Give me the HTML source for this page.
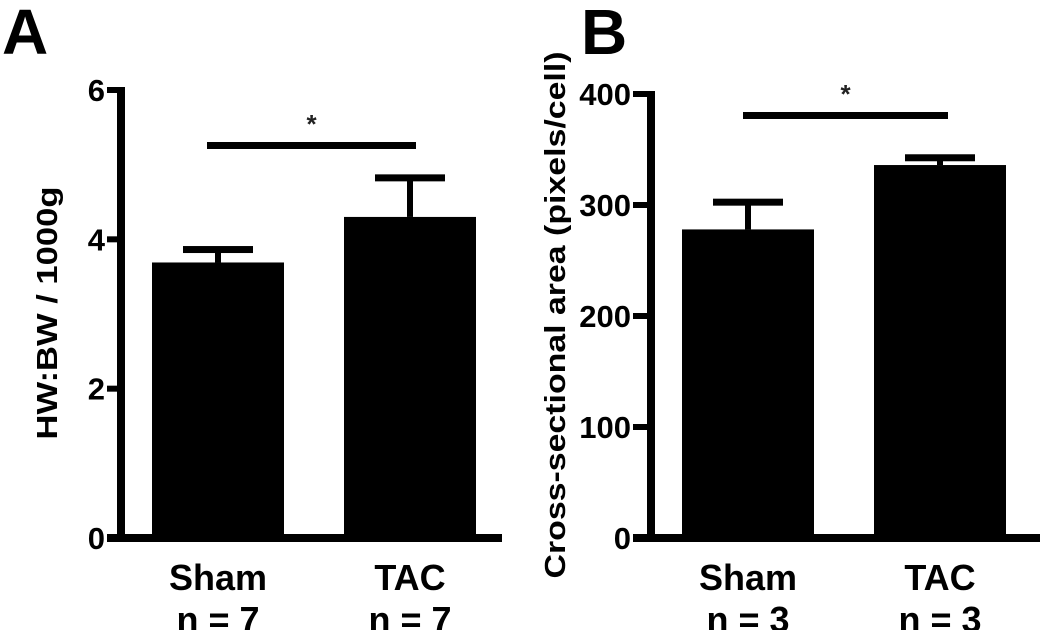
<!DOCTYPE html>
<html><head><meta charset="utf-8"><style>
html,body{margin:0;padding:0;background:#fff;}
svg{display:block;font-family:"Liberation Sans",Arial,sans-serif;font-weight:bold;}
</style></head><body>
<svg id="chart" width="1050" height="630" viewBox="0 0 1050 630"></svg>
<script>
const categories = ["Sham", "TAC"];
const nLabelsA = ["n = 7", "n = 7"];
const nLabelsB = ["n = 3", "n = 3"];
const valuesA = [3.69, 4.30];
const errorsA = [0.18, 0.53];
const valuesB = [278, 336];
const errorsB = [25, 7];
const ticksA = [0, 2, 4, 6];
const ticksB = [0, 100, 200, 300, 400];

const NS = "http://www.w3.org/2000/svg";
const svg = document.getElementById("chart");
function mk(tag, attrs, parent) {
  const e = document.createElementNS(NS, tag);
  for (const k in attrs) e.setAttribute(k, attrs[k]);
  (parent || svg).appendChild(e);
  return e;
}

function panel(cfg) {
  const g = mk("g", {});
  
  
  const y = v => cfg.y0 - (v / cfg.max) * (cfg.y0 - cfg.yTop);
  const L = mk("text", {x: cfg.letterX, y: 54, "font-size": 64}, g);
  L.textContent = cfg.letter;
  
  
  const ya = mk("rect", {x: cfg.ax - 4, y: y(cfg.max) - 3, width: 8, height: cfg.y0 - y(cfg.max) + 7, fill: "#000"}, g);
  
  
  const xa = mk("rect", {x: cfg.tickL, y: cfg.y0 - 4, width: cfg.xEnd - cfg.tickL, height: 8, fill: "#000"}, g);
  
  
  cfg.ticks.forEach(t => {
    const tk = mk("rect", {x: cfg.tickL, y: y(t) - 3, width: cfg.ax - cfg.tickL, height: 6, fill: "#000"}, g);
    
    
    const tl = mk("text", {x: cfg.tickL - 2, y: y(t) + 11, "font-size": 31, "text-anchor": "end"}, g);
    tl.textContent = t;
    
    
  });
  const yt = mk("text", {x: 0, y: 0, "font-size": 29, "text-anchor": "middle",
    transform: `translate(${cfg.titleX},${cfg.titleY}) rotate(-90)`,
    textLength: cfg.titleLen, lengthAdjust: "spacingAndGlyphs"}, g);
  yt.textContent = cfg.title;
  
  
  cfg.values.forEach((v, i) => {
    const bx = cfg.barX[i];
    const bar = mk("rect", {x: bx, y: y(v), width: cfg.barW, height: cfg.y0 - y(v), fill: "#000"}, g);
    
    
    const cx = bx + cfg.barW / 2;
    const top = y(v + cfg.errors[i]);
    const stem = mk("rect", {x: cx - 3, y: top, width: 6, height: y(v) - top, fill: "#000"}, g);
    
    
    const cap = mk("rect", {x: cx - 35, y: top - 3, width: 70, height: 7, fill: "#000"}, g);
    
    
    const cl = mk("text", {x: cx, y: 590, "font-size": 36, "text-anchor": "middle"}, g);
    cl.textContent = categories[i];
    
    
    const nl = mk("text", {x: cx, y: 632, "font-size": 36, "text-anchor": "middle"}, g);
    nl.textContent = cfg.nLabels[i];
    
    
  });
  const sig = mk("rect", {x: cfg.sigX1, y: cfg.sigY - 3, width: cfg.sigX2 - cfg.sigX1, height: 7, fill: "#000"}, g);
  
  
  const st = mk("text", {x: (cfg.sigX1 + cfg.sigX2) / 2, y: cfg.sigY - 12, "font-size": 26, "text-anchor": "middle", fill: "#222"}, g);
  st.textContent = "*";
  
  
}

panel({name: "panel-a", letter: "A", letterX: 2, ax: 121, tickL: 107, xEnd: 502, y0: 538, yTop: 90, max: 6,
  ticks: ticksA, values: valuesA, errors: errorsA, barX: [152, 344], barW: 132, nLabels: nLabelsA,
  title: "HW:BW / 1000g", titleX: 57, titleY: 313, titleLen: 253, sigX1: 207, sigX2: 416, sigY: 145});
panel({name: "panel-b", letter: "B", letterX: 581, ax: 651, tickL: 633, xEnd: 1040, y0: 538, yTop: 94, max: 400,
  ticks: ticksB, values: valuesB, errors: errorsB, barX: [682, 874], barW: 132, nLabels: nLabelsB,
  title: "Cross-sectional area (pixels/cell)", titleX: 565, titleY: 315, titleLen: 527, sigX1: 743, sigX2: 948, sigY: 115});
</script>
</body></html>
